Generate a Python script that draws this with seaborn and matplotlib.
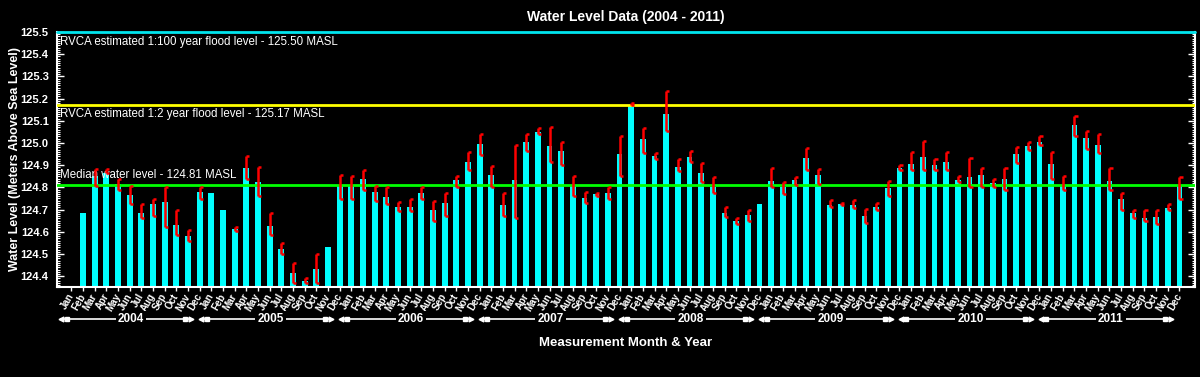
import numpy as np
import pandas as pd
import matplotlib
matplotlib.use("Agg")
import matplotlib.pyplot as plt
import matplotlib.transforms as mtransforms
from matplotlib.ticker import MultipleLocator
import seaborn as sns

# monthly water level (m above sea level), min/max range of readings in the month
years = [2004, 2005, 2006, 2007, 2008, 2009, 2010, 2011]
months = ["Jan", "Feb", "Mar", "Apr", "May", "Jun",
          "Jul", "Aug", "Sep", "Oct", "Nov", "Dec"]

level = [
    np.nan, 124.684, 124.850, 124.865, 124.815, 124.766, 124.686, 124.725, 124.733, 124.631, 124.581, 124.778,
    124.773, 124.698, 124.611, 124.886, 124.824, 124.626, 124.522, 124.414, 124.378, 124.432, 124.531, 124.808,
    124.808, 124.838, 124.779, 124.757, 124.712, 124.712, 124.775, 124.698, 124.728, 124.833, 124.914, 124.996,
    124.856, 124.721, 124.833, 125.004, 125.050, 124.986, 124.964, 124.806, 124.752, 124.770, 124.775, 124.950,
    125.171, 125.018, 124.941, 125.131, 124.892, 124.937, 124.865, 124.803, 124.685, 124.649, 124.676, 124.725,
    124.829, 124.802, 124.833, 124.932, 124.856, 124.719, 124.725, 124.719, 124.671, 124.713, 124.797, 124.887,
    124.905, 124.937, 124.901, 124.914, 124.833, 124.847, 124.856, 124.820, 124.838, 124.950, 124.986, 125.004,
    124.905, 124.806, 125.081, 125.023, 124.991, 124.829, 124.748, 124.685, 124.662, 124.667, 124.707, 124.806,
]
range_low = [
    np.nan, np.nan, 124.806, 124.865, 124.789, 124.725, 124.661, 124.671, 124.620, 124.586, 124.559, 124.748,
    np.nan, np.nan, 124.605, 124.837, 124.761, 124.585, 124.500, 124.371, 124.371, 124.368, np.nan, 124.748,
    124.748, 124.788, 124.739, 124.725, 124.694, 124.694, 124.746, 124.647, 124.671, 124.800, 124.878, 124.946,
    124.800, 124.671, 124.662, 124.964, 125.041, 124.914, 124.901, 124.761, 124.728, 124.761, 124.748, 124.851,
    125.171, 124.953, 124.926, 125.054, 124.875, 124.914, 124.823, 124.773, 124.667, 124.634, 124.647, np.nan,
    124.800, 124.769, 124.812, 124.878, 124.815, 124.710, 124.722, 124.706, 124.638, 124.697, 124.760, 124.877,
    124.877, 124.877, 124.877, 124.877, 124.824, 124.802, 124.802, 124.802, 124.787, 124.908, 124.967, 124.990,
    124.836, 124.787, 125.030, 124.975, 124.954, 124.787, 124.697, 124.661, 124.647, 124.634, 124.697, 124.746,
]
range_high = [
    np.nan, np.nan, 124.882, 124.881, 124.837, 124.808, 124.726, 124.748, 124.803, 124.698, 124.608, 124.803,
    np.nan, np.nan, 124.623, 124.943, 124.890, 124.683, 124.548, 124.458, 124.390, 124.498, np.nan, 124.854,
    124.853, 124.880, 124.808, 124.803, 124.733, 124.749, 124.803, 124.740, 124.776, 124.853, 124.961, 125.042,
    124.898, 124.776, 124.992, 125.042, 125.069, 125.074, 125.004, 124.853, 124.781, 124.776, 124.802, 125.033,
    125.182, 125.069, 124.956, 125.236, 124.930, 124.965, 124.911, 124.848, 124.713, 124.664, 124.700, np.nan,
    124.889, 124.826, 124.848, 124.979, 124.881, 124.742, 124.731, 124.742, 124.701, 124.728, 124.827, 124.902,
    124.961, 125.007, 124.926, 124.958, 124.853, 124.931, 124.889, 124.836, 124.886, 124.980, 125.006, 125.033,
    124.958, 124.853, 125.120, 125.056, 125.042, 124.889, 124.776, 124.700, 124.700, 124.700, 124.727, 124.848,
]

flood_100yr = 125.50
flood_2yr = 125.17
median_level = 124.81

sns.set_theme(style="ticks", rc={"axes.facecolor": "black", "figure.facecolor": "black",
                                 "axes.edgecolor": "white", "text.color": "white",
                                 "xtick.color": "white", "ytick.color": "white"})
plt.rcParams['font.family'] = ['Liberation Sans', 'DejaVu Sans']

keys = [f"{y}-{m + 1:02d}" for y in years for m in range(12)]
df = pd.DataFrame({"key": keys, "level": level, "low": range_low, "high": range_high})
xs = np.arange(len(keys))

fig = plt.figure(figsize=(12, 3.77), dpi=100, facecolor="black")
ax = fig.add_axes([0.0475, 0.238, 0.948, 0.677])
ax.set_facecolor("black")

sns.barplot(data=df, x="key", y="level", order=keys, color="#00FFFF", saturation=1,
            width=0.5, errorbar=None, ax=ax, zorder=2, edgecolor="none", linewidth=0)

# reference lines
ax.axhline(flood_100yr, color="#00E5EE", lw=2, zorder=4, clip_on=False)
ax.axhline(flood_2yr, color="#FFFF00", lw=2, zorder=4)
ax.axhline(median_level, color="#00FF00", lw=2, zorder=4)

ax.text(-0.97, 125.455, "RVCA estimated 1:100 year flood level - 125.50 MASL",
        color="white", fontsize=8.3, va="center")
ax.text(-0.97, 125.13, "RVCA estimated 1:2 year flood level - 125.17 MASL",
        color="white", fontsize=8.3, va="center")
ax.text(-0.97, 124.856, "Median water level - 124.81 MASL",
        color="white", fontsize=8.3, va="center", zorder=5)

# range bars, drawn like "[" brackets
ok = df["low"].notna().values
ax.vlines(xs[ok], df["low"][ok], df["high"][ok], color="red", lw=1.8, zorder=6)
ax.hlines(df["low"][ok], xs[ok], xs[ok] + 0.27, color="red", lw=1.8, zorder=6)
ax.hlines(df["high"][ok], xs[ok], xs[ok] + 0.27, color="red", lw=1.8, zorder=6)

ax.set_xlim(-1.23, 96.3)
ax.set_ylim(124.35, 125.5)
ax.set_yticks(np.arange(124.4, 125.51, 0.1))
ax.set_yticklabels([f"{v:.1f}" for v in np.arange(124.4, 125.51, 0.1)])
ax.yaxis.set_minor_locator(MultipleLocator(0.01))
ax.tick_params(axis="y", which="both", direction="in", left=True, right=True,
               colors="white", labelsize=8, pad=6)
ax.tick_params(axis="y", which="major", length=5, width=1)
ax.tick_params(axis="y", which="minor", length=2.5, width=0.8)
plt.setp(ax.get_yticklabels(), fontweight="bold")

ax.set_xticks(xs)
ax.set_xticklabels(months * len(years), rotation=60, ha="right", va="center",
                   rotation_mode="anchor", fontsize=7, fontweight="bold")
ax.tick_params(axis="x", direction="out", length=3, width=1, colors="white", pad=2)

for side in ["left", "right", "bottom"]:
    ax.spines[side].set_color("white")
    ax.spines[side].set_linewidth(1.5)
ax.spines["top"].set_visible(False)
ax.set_xlabel("")
ax.set_ylabel("")

# year brackets under the month labels
trans = mtransforms.blended_transform_factory(ax.transData, ax.transAxes)
yy = -0.124
for k, yr in enumerate(years):
    s, e = 12 * k - 0.85, 12 * k + 10.3
    ax.plot([s, e], [yy, yy], color="white", lw=1.2, transform=trans, clip_on=False)
    ax.plot([s + 0.45, e - 0.55], [yy, yy], ls="none", marker="s", ms=3.5,
            color="white", transform=trans, clip_on=False)
    ax.plot([s], [yy], ls="none", marker="<", ms=3.5, color="white", transform=trans, clip_on=False)
    ax.plot([e], [yy], ls="none", marker=">", ms=3.5, color="white", transform=trans, clip_on=False)
    ax.text(12 * k + 5.1, yy, str(yr), transform=trans, ha="center", va="center",
            color="white", fontsize=8.5, fontweight="bold", zorder=5,
            bbox=dict(facecolor="black", edgecolor="none", pad=1.5))

ax.text(0.5, 1.059, "Water Level Data (2004 - 2011)", transform=ax.transAxes,
        ha="center", va="center", color="white", fontsize=10, fontweight="bold")
ax.text(0.5, -0.218, "Measurement Month & Year", transform=ax.transAxes,
        ha="center", va="center", color="white", fontsize=9.5, fontweight="bold")
fig.text(0.0125, 0.577, "Water Level (Meters Above Sea Level)", rotation=90,
         ha="center", va="center", color="white", fontsize=9, fontweight="bold")

fig.savefig("out.png", dpi=100, facecolor="black")
